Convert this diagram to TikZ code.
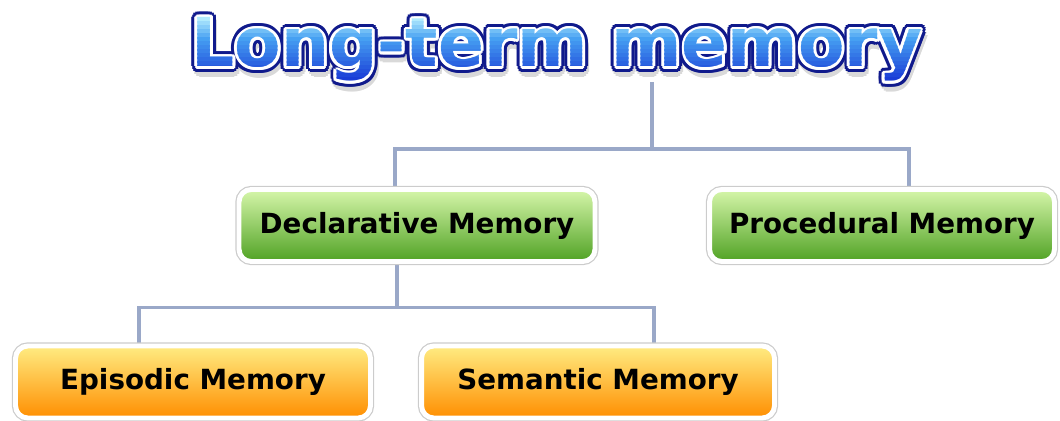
\documentclass[tikz,border=0pt]{standalone}
\usepackage{fontspec}
\setsansfont{DejaVu Sans}
\usetikzlibrary{backgrounds}

\definecolor{linkblue}{RGB}{154,168,200}
\definecolor{titlenavy}{RGB}{16,26,140}
\definecolor{titletop}{RGB}{200,250,255}
\definecolor{titlemid}{RGB}{70,160,242}
\definecolor{titlebot}{RGB}{22,52,212}
\definecolor{greentop}{RGB}{214,246,170}
\definecolor{greenmid}{RGB}{140,210,80}
\definecolor{greenbot}{RGB}{80,162,36}
\definecolor{orangetop}{RGB}{255,236,130}
\definecolor{orangemid}{RGB}{255,196,40}
\definecolor{orangebot}{RGB}{255,142,0}

\newcommand{\titletext}{Long-term memory}
\newcommand{\titlefont}{\sffamily\bfseries\fontsize{38.5}{46}\selectfont}

\begin{document}
\begin{tikzpicture}[x=0.02cm, y=-0.02cm,
    link/.style={draw=linkblue, line width=2.2pt},
    titletxt/.style={font=\titlefont, inner sep=0pt},
    memo/.style={rounded corners=7pt, minimum height=1.44cm,
      font=\sffamily\bfseries\fontsize{15.8}{18}\selectfont, text=black,
      draw=white, line width=2.8pt,
      preaction={draw=gray!40, line width=4.2pt}},
    greenbox/.style={memo, top color=greentop, middle color=greenmid, bottom color=greenbot},
    orangebox/.style={memo, top color=orangetop, middle color=orangemid, bottom color=orangebot}]
  \useasboundingbox (0,0) rectangle (1060,421);

  % title: shadow, navy rim, white rim, then the letters in colour bands
  \node[titletxt, text opacity=0, anchor=base] (title) at (557,67) {\titletext};
  \foreach \a in {0,30,...,330}
    \node[titletxt, text=gray!30] at ([shift={(\a:3pt)}, xshift=1pt, yshift=-3pt]title.center) {\titletext};
  \foreach \a in {0,22.5,...,337.5}
    \node[titletxt, text=titlenavy] at ([shift={(\a:3.3pt)}]title.center) {\titletext};
  \foreach \a in {0,30,...,330}
    \node[titletxt, text=white] at ([shift={(\a:1.6pt)}]title.center) {\titletext};
  \foreach \i in {0,...,17} {
    \ifnum\i<6
      \pgfmathtruncatemacro\p{100-\i*100/6}
      \colorlet{band}{titletop!\p!titlemid}
    \else
      \pgfmathtruncatemacro\p{100-(\i-6)*100/11}
      \colorlet{band}{titlemid!\p!titlebot}
    \fi
    \begin{scope}
      \clip (150,14+4*\i) rectangle (960,18.5+4*\i);
      \node[titletxt, text=band] at (title.center) {\titletext};
    \end{scope}
  }

  % boxes
  \node[greenbox, minimum width=7.12cm] (decl) at (417,225.5) {Declarative Memory};
  \node[greenbox, minimum width=6.9cm] (proc) at (882,225.5) {Procedural Memory};
  \node[orangebox, minimum width=7.1cm] (epi) at (193,382) {Episodic Memory};
  \node[orangebox, minimum width=7.06cm] (sem) at (598,382) {Semantic Memory};

  % tree lines
  \begin{scope}[on background layer]
    \coordinate (root) at ([xshift=1.9cm]title.south);
    \coordinate (fork) at ([yshift=-1.34cm]root);
    \coordinate (split) at ([xshift=-0.4cm, yshift=-0.87cm]decl.south);
    \draw[link] (root) -- (fork);
    \draw[link] (fork) -| ([xshift=-0.44cm]decl.north);
    \draw[link] (fork) -| ([xshift=0.54cm]proc.north);
    \draw[link] ([xshift=-0.4cm]decl.south) -- (split);
    \draw[link] (split) -| ([xshift=-1.08cm]epi.north);
    \draw[link] (split) -| ([xshift=1.12cm]sem.north);
  \end{scope}
\end{tikzpicture}
\end{document}
